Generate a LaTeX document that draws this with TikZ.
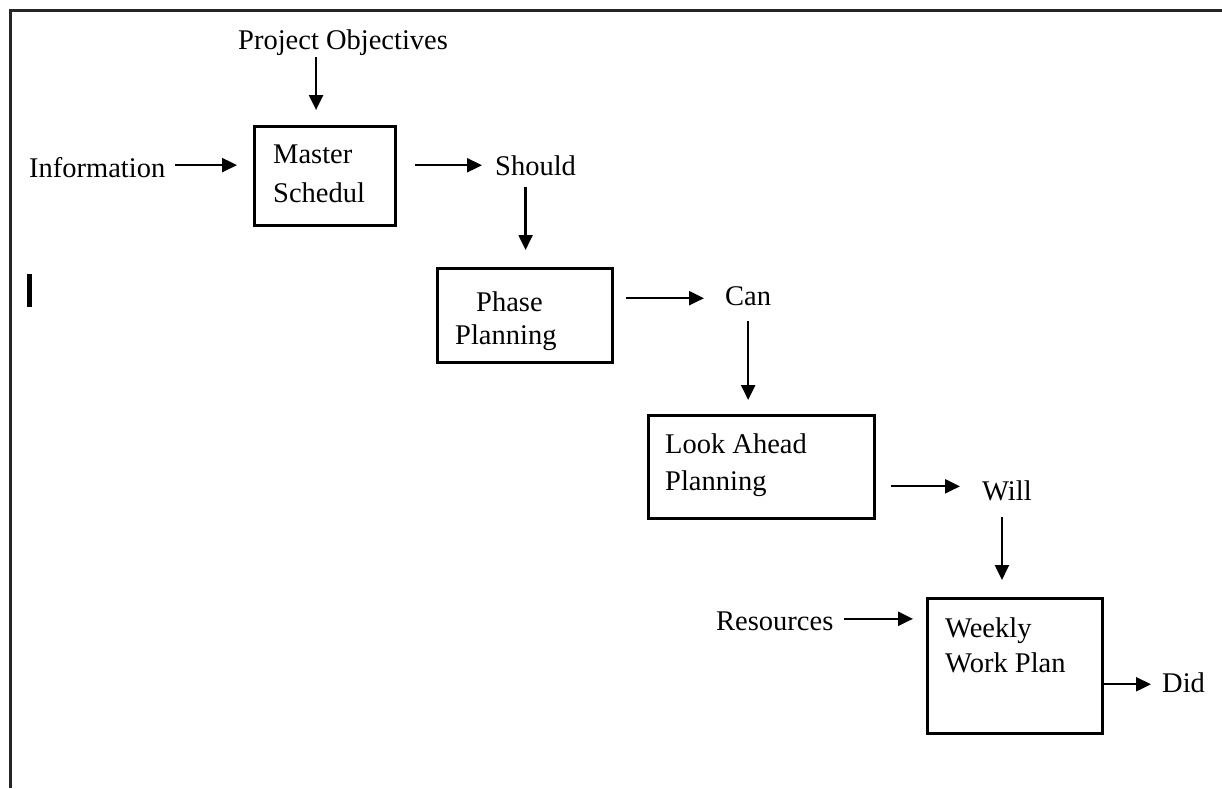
\documentclass[tikz,border=0pt]{standalone}
\usepackage{fontspec}
\setmainfont{Liberation Serif}
\usetikzlibrary{arrows.meta}
\tikzset{
  lbl/.style={inner sep=0pt, anchor=base west, font=\fontsize{28.5}{34}\selectfont},
  boxnode/.style={draw=black, line width=2.8pt, inner sep=0pt, anchor=north west},
  arr/.style={line width=2.3pt, -{Triangle[length=15pt,width=14pt]}},
  frame/.style={draw=black!85, line width=3pt}
}
\begin{document}
\begin{tikzpicture}[x=1pt,y=-1pt]
\useasboundingbox (0,0) rectangle (1222,788);
% outer frame (top and left visible)
\coordinate (fA) at (10,788);
\coordinate (fB) at (10,10);
\coordinate (fC) at (1222,10);
\draw[frame] (fA) -- (fB) -- (fC);
% small text cursor bar
\fill[black] (27,274) rectangle (32,307);

% boxes
\node[boxnode, minimum width=141pt, minimum height=99pt] (ms) at (253,125) {};
\node[boxnode, minimum width=175pt, minimum height=94pt] (ph) at (436,267) {};
\node[boxnode, minimum width=226pt, minimum height=103pt] (la) at (647,414) {};
\node[boxnode, minimum width=175pt, minimum height=135pt] (wk) at (926,597) {};

% texts inside boxes
\node[lbl] (msA) at (273,163) {Master};
\node[lbl] (msB) at (273,202) {Schedul};
\node[lbl] (phA) at (476,311) {Phase};
\node[lbl] (phB) at (455,344) {Planning};
\node[lbl] (laA) at (665,453) {Look Ahead};
\node[lbl] (laB) at (665,490) {Planning};
\node[lbl] (wkA) at (945,637) {Weekly};
\node[lbl] (wkB) at (945,672) {Work Plan};

% free labels
\node[lbl] (po) at (238,49) {Project Objectives};
\node[lbl] (info) at (29,177) {Information};
\node[lbl] (should) at (495,175) {Should};
\node[lbl] (can) at (725,305) {Can};
\node[lbl] (will) at (982,500) {Will};
\node[lbl] (res) at (716,630) {Resources};
\node[lbl] (did) at (1162,692) {Did};

% connector helper points
\coordinate (poOut) at ([xshift=-27pt]po.south);
\coordinate (infoOut) at ([yshift=2pt]info.east);
\coordinate (shouldOut) at ([xshift=-10pt]should.south);
\coordinate (canIn) at ([yshift=-2.5pt]can.west);
\coordinate (willIn) at ([yshift=4pt]will.west);
\coordinate (willOut) at ([xshift=-5pt]will.south);
\coordinate (resOut) at ([yshift=2pt]res.east);
\coordinate (didIn) at ([yshift=-2pt]did.west);

% connectors
\draw[arr, shorten <=2pt, shorten >=15pt] (poOut) -- (poOut |- ms.north);
\draw[arr, shorten <=9pt, shorten >=16pt] (infoOut) -- (infoOut -| ms.west);
\draw[arr, shorten <=18pt, shorten >=13pt] (ms.east |- should.west) -- (should.west);
\draw[arr, shorten <=12pt, shorten >=17pt] (shouldOut) -- (shouldOut |- ph.north);
\draw[arr, shorten <=12pt, shorten >=21pt] (ph.east |- canIn) -- (canIn);
\draw[arr, shorten <=16pt, shorten >=14pt] (can.south) -- (can.south |- la.north);
\draw[arr, shorten <=15pt, shorten >=22pt] (la.east |- willIn) -- (willIn);
\draw[arr, shorten <=16pt, shorten >=17pt] (willOut) -- (willOut |- wk.north);
\draw[arr, shorten <=10pt, shorten >=13pt] (resOut) -- (resOut -| wk.west);
\draw[arr, shorten <=0pt, shorten >=11pt] (wk.east |- didIn) -- (didIn);
\end{tikzpicture}
\end{document}
